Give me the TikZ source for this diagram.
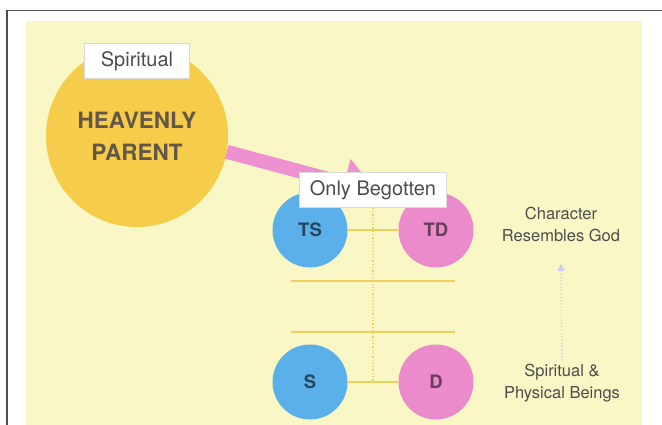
\documentclass[tikz,border=0pt]{standalone}
\usepackage{fontspec}
\setmainfont{TeX Gyre Heros}
\usetikzlibrary{arrows.meta}
\definecolor{paper}{HTML}{FAF7C6}
\definecolor{parentGold}{HTML}{F6CD4A}
\definecolor{sonBlue}{HTML}{5BB0EA}
\definecolor{daughterPink}{HTML}{EC8BCB}
\definecolor{bandPink}{HTML}{EE91D1}
\definecolor{tieGold}{HTML}{F1CF5C}
\definecolor{inkGray}{HTML}{4D4D4D}
\newcommand{\fsz}[1]{\fontsize{#1}{1.3\dimexpr#1pt\relax}\selectfont}

\begin{document}
\begin{tikzpicture}[x=1pt, y=-1pt]
  \tikzset{
    person/.style={circle, inner sep=0pt, minimum size=75pt, font=\fsz{18.5}\bfseries},
    tag/.style={draw=black!15, fill=white, inner sep=0pt, minimum height=35pt,
      text=inkGray, font=\fsz{20}},
    note/.style={align=center, text=inkGray, font=\fontsize{16.5}{22}\selectfont},
    tie/.style={draw=tieGold, line width=1.3pt},
    stem/.style={draw=tieGold, line width=1.3pt, dotted},
  }
  \useasboundingbox (0,0) rectangle (662,425);
  \fill[paper] (26,21) rectangle (642,425);
  \draw[black!70, line width=1.6pt] (7,425) -- (7,10.5) -- (662,10.5);
  % the parent and the four children
  \node[circle, fill=parentGold, minimum size=182pt, inner sep=0pt, align=center,
    text=inkGray!80!brown, font=\fontsize{22.5}{32}\selectfont\bfseries]
    (HP) at (137,136) {HEAVENLY\\PARENT};
  \node[person, fill=sonBlue, text=black!60!sonBlue] (TS) at (310,230) {TS};
  \node[person, fill=daughterPink, text=black!55!daughterPink] (TD) at (436,230) {TD};
  \node[person, fill=sonBlue, text=black!60!sonBlue] (S) at (310,382) {S};
  \node[person, fill=daughterPink, text=black!55!daughterPink] (D) at (436,382) {D};
  \draw[tie] (TS) -- (TD);
  \draw[tie] (S) -- (D) coordinate[midway] (SD-mid);
  \foreach \y in {281,332}
    \draw[tie] (291,\y) -- (455,\y);
  % pink band from the parent
  \coordinate (OB-tip) at (377,192);
  \draw[bandPink, line width=14pt, -{Triangle[width=48pt, length=34pt]}] (HP.-10.5) -- (OB-tip);
  \node[tag, minimum width=147pt] (OB) at (373,190) {Only Begotten};
  \node[tag, minimum width=105pt] (SP) at (137,61) {Spiritual};
  \draw[stem] (OB.south) -- (SD-mid);
  % growth notes
  \node[note] (CH) at (561,224) {Character\\Resembles God};
  \node[note] (PB) at (562,383) {Spiritual \&\\Physical Beings};
  \draw[draw=black!25!blue!20, line width=1.3pt, dotted,
    -{Triangle[width=7pt, length=7pt]}] (PB.north) -- ([yshift=-19pt]CH.south);
\end{tikzpicture}
\end{document}
